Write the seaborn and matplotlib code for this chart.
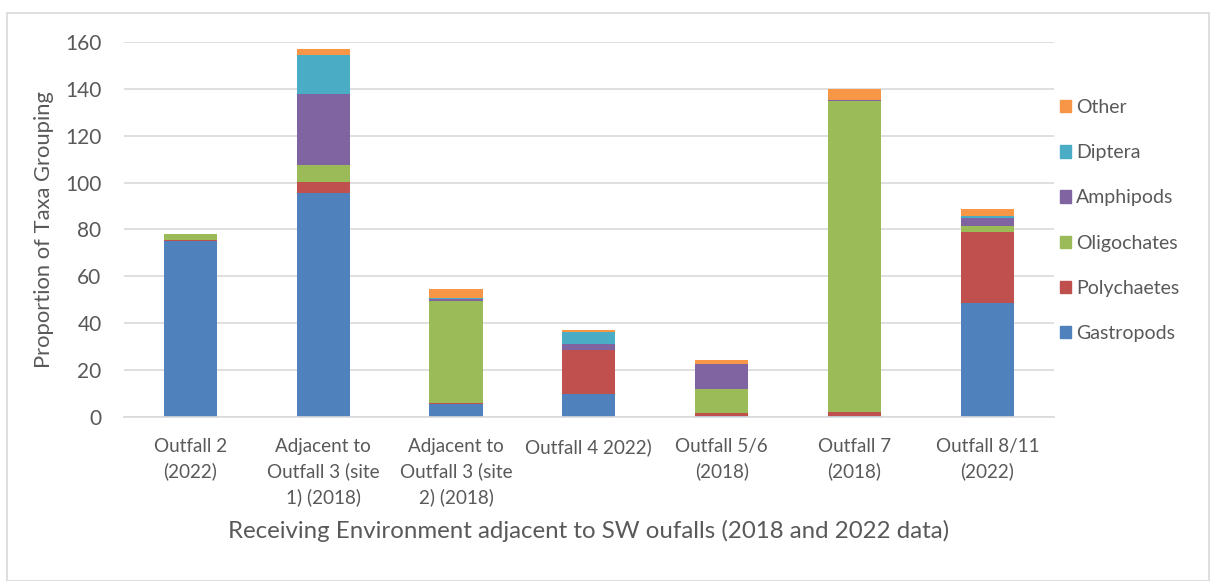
import numpy as np
import matplotlib
matplotlib.use("Agg")
import matplotlib.pyplot as plt
import matplotlib.patches as mpatches
import seaborn as sb
import pandas as pd

# DATA
#-----------------------
sites = ["Outfall 2\n(2022)", "Adjacent to\nOutfall 3 (site\n1) (2018)", "Adjacent to\nOutfall 3 (site\n2) (2018)",
         "Outfall 4 2022)", "Outfall 5/6\n(2018)", "Outfall 7\n(2018)", "Outfall 8/11\n(2022)"]
gastropods = [75.0, 95.7, 5.4, 10.0, 0.7, 0.4, 48.6]
polychaetes = [0.7, 4.6, 0.6, 18.6, 1.1, 1.7, 30.3]
oligochates = [2.5, 7.1, 43.4, 0.0, 10.0, 132.6, 2.8]
amphipods = [0.0, 30.3, 1.0, 2.4, 10.8, 0.5, 3.3]
diptera = [0.0, 16.6, 0.2, 5.4, 0.0, 0.0, 0.9]
other = [0.0, 2.7, 3.9, 0.7, 1.6, 4.7, 2.8]

groups = ["Gastropods", "Polychaetes", "Oligochates", "Amphipods", "Diptera", "Other"]
colors = ["#4F81BD", "#C0504D", "#9BBB59", "#8064A2", "#4BACC6", "#F79646"]

df = pd.DataFrame({"site": sites, "Gastropods": gastropods, "Polychaetes": polychaetes,
                   "Oligochates": oligochates, "Amphipods": amphipods,
                   "Diptera": diptera, "Other": other})

# PLOT
#-----------------------
sb.set_style("white")
plt.rcParams["font.family"] = ["Lato", "DejaVu Sans"]
txt = "#595959"

fig = plt.figure(figsize=(12.14, 5.81), dpi=100)
ax = fig.add_axes([0.102, 0.282, 0.766, 0.646])

bottom = np.zeros(len(sites))
for g, c in zip(groups, colors):
    sb.barplot(data=df, x="site", y=g, order=sites, color=c, width=0.4,
               bottom=bottom, ax=ax, saturation=1, linewidth=0)
    bottom = bottom + df[g].values

ax.set_ylim(0, 160)
ax.set_xlim(-0.5, len(sites) - 0.5)
ax.set_yticks(range(0, 161, 20))
ax.grid(axis="y", color="#d9d9d9", linewidth=1.2)
ax.set_axisbelow(True)
for s in ["top", "right", "left"]:
    ax.spines[s].set_visible(False)
ax.spines["bottom"].set_color("#d9d9d9")
ax.spines["bottom"].set_linewidth(1.2)
ax.tick_params(axis="y", labelsize=15, colors=txt, length=0, pad=16)
ax.tick_params(axis="x", labelsize=13.6, colors=txt, length=0, pad=15)
for lab in ax.get_xticklabels():
    lab.set_linespacing(1.5)

ax.set_ylabel("Proportion of Taxa Grouping", fontsize=15.8, color=txt, labelpad=8)
ax.set_xlabel("Receiving Environment adjacent to SW oufalls (2018 and 2022 data)",
              fontsize=17.3, color=txt, labelpad=10)

handles = [mpatches.Patch(color=c, label=g) for g, c in zip(groups, colors)][::-1]
leg = ax.legend(handles=handles, loc="center left", bbox_to_anchor=(0.998, 0.524),
                frameon=False, fontsize=14, labelspacing=1.45, borderaxespad=0,
                handlelength=0.6, handleheight=0.6, handletextpad=0.25)
for t in leg.get_texts():
    t.set_color(txt)

fig.patches.append(mpatches.Rectangle((0.006, 0.0), 0.99, 0.978, transform=fig.transFigure,
                                      fill=False, edgecolor="#d9d9d9", linewidth=1.2))

plt.savefig("out.png", dpi=100)
